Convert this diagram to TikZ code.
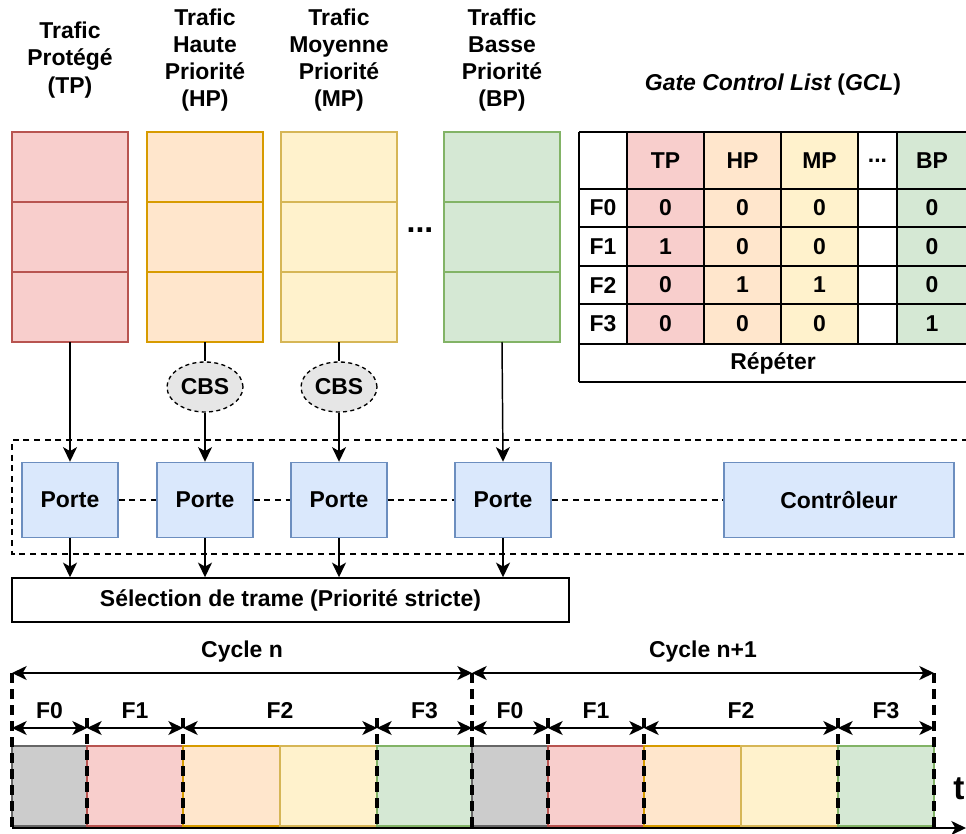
\documentclass[tikz,border=0pt]{standalone}
\usepackage{fontspec}
\setmainfont{Liberation Sans}
\usetikzlibrary{arrows.meta,shapes.geometric}
\definecolor{redF}{HTML}{F8CECC}\definecolor{redD}{HTML}{B85450}
\definecolor{orF}{HTML}{FFE6CC}\definecolor{orD}{HTML}{D79B00}
\definecolor{yeF}{HTML}{FFF2CC}\definecolor{yeD}{HTML}{D6B656}
\definecolor{grF}{HTML}{D5E8D4}\definecolor{grD}{HTML}{82B366}
\definecolor{blF}{HTML}{DAE8FC}\definecolor{blD}{HTML}{6C8EBF}
\definecolor{gyF}{HTML}{CCCCCC}\definecolor{gyD}{HTML}{666666}
\definecolor{cbsF}{HTML}{E6E6E6}
\begin{document}
\begin{tikzpicture}[x=0.75pt,y=-0.75pt,
  font=\fontsize{17.2}{20.4}\selectfont\bfseries,
  sz/.style 2 args={minimum width={#1*0.75pt},minimum height={#2*0.75pt}},
  qbox/.style={draw, line width=1pt, inner sep=0pt, outer sep=0pt, sz={116}{70}},
  porte/.style={draw=blD, fill=blF, line width=1.1pt, inner sep=0pt, sz={96}{75}},
  cbs/.style={ellipse, draw, dash pattern=on 3pt off 2.5pt, fill=cbsF, line width=1pt, inner sep=0pt, sz={76}{50}},
  arr/.style={-{Stealth[length=11pt,width=10.5pt,inset=3pt]}, line width=1.1pt},
  dimarr/.style={{Stealth[length=11pt,width=10.5pt,inset=3pt]}-{Stealth[length=11pt,width=10.5pt,inset=3pt]}, line width=1.1pt},
  vdash/.style={line width=2.9pt, dash pattern=on 7.5pt off 4.5pt},
  link/.style={line width=1pt, dash pattern=on 4.5pt off 3.5pt},
  slot/.style={draw, line width=1.1pt, inner sep=0pt, minimum width={#1*0.75pt}, minimum height=60pt},
  tline/.style={line width=1.2pt}
]
\useasboundingbox (0,0) rectangle (966,834);
\clip (0,0) rectangle (966,834);

% titles
\node[align=center] (t1) at (70,60) {Trafic\\Protégé\\(TP)};
\node[align=center] (t2) at (205,60) {Trafic\\Haute\\Priorité\\(HP)};
\node[align=center] (t3) at (339,60) {Trafic\\Moyenne\\Priorité\\(MP)};
\node[align=center] (t4) at (502,60) {Traffic\\Basse\\Priorité\\(BP)};

% queues
\foreach \n/\x/\f/\d in {tp/70/redF/redD, hp/205/orF/orD, mp/339/yeF/yeD, bp/502/grF/grD}{
  \node[qbox, fill=\f, draw=\d] (\n1) at (\x,167) {};
  \node[qbox, fill=\f, draw=\d] (\n2) at (\x,237) {};
  \node[qbox, fill=\f, draw=\d] (\n3) at (\x,307) {};
}
\node (qdots) at (420,230) {\fontsize{24}{24}\selectfont ...};

% CBS
\node[cbs] (cbs1) at (205,387) {CBS};
\node[cbs] (cbs2) at (339,387) {CBS};

% dashed enclosure
\draw[link] (1000,440) -- (12,440) -- (12,554) -- (1000,554);

% gates
\node[porte] (p1) at (70,500) {Porte};
\node[porte] (p2) at (205,500) {Porte};
\node[porte] (p3) at (339,500) {Porte};
\node[porte] (p4) at (503,500) {Porte};
\node[porte, sz={230}{75}] (ctrl) at (839,500) {Contrôleur};
\draw[link] (p1.east) -- (p2.west);
\draw[link] (p2.east) -- (p3.west);
\draw[link] (p3.east) -- (p4.west);
\draw[link] (p4.east) -- (ctrl.west);

% selection
\node[draw, line width=1.1pt, sz={557}{44}, inner sep=0pt] (sel) at (290.5,600) {Sélection de trame (Priorité stricte)};

% arrows
\draw[arr] (tp3.south) -- (p1.north);
\draw[line width=1.1pt] (hp3.south) -- (cbs1.north);
\draw[arr] (cbs1.south) -- (p2.north);
\draw[line width=1.1pt] (mp3.south) -- (cbs2.north);
\draw[arr] (cbs2.south) -- (p3.north);
\draw[arr] (bp3.south) -- (p4.north);
\foreach \p in {p1,p2,p3,p4}{
  \draw[arr] (\p.south) -- (\p.south |- sel.north);
}

% GCL table
\node (gcl) at (773,85) {\itshape Gate Control List \upshape(\itshape GCL\upshape)};
\fill[redF] (627,132) rectangle (704,344);
\fill[orF] (704,132) rectangle (781,344);
\fill[yeF] (781,132) rectangle (858,344);
\fill[grF] (897,132) rectangle (970,344);
\foreach \y in {132,189,227,266,304,344,382}{
  \draw[tline] (579,\y) -- (970,\y);
}
\draw[tline] (579,132) -- (579,382);
\foreach \x in {627,704,781,858,897}{
  \draw[tline] (\x,132) -- (\x,344);
}
\draw[tline] (968,132) -- (968,382);
\node (hTP) at (665.5,161) {TP};
\node (hHP) at (742.5,161) {HP};
\node (hMP) at (819.5,161) {MP};
\node (hDots) at (877.5,161) {...};
\node (hBP) at (932,161) {BP};
\foreach \r/\y/\a/\b/\c/\d in {0/208/0/0/0/0, 1/246.5/1/0/0/0, 2/285/0/1/1/0, 3/324/0/0/0/1}{
  \node (rl\r) at (603,\y) {F\r};
  \node (ra\r) at (665.5,\y) {\a};
  \node (rb\r) at (742.5,\y) {\b};
  \node (rc\r) at (819.5,\y) {\c};
  \node (rd\r) at (932,\y) {\d};
}
\node (rep) at (773,363) {Répéter};

% timeline slots
\node[slot=75, fill=gyF, draw=gyD] (s0) at (49.5,786) {};
\node[slot=96, fill=redF, draw=redD] (s1) at (135,786) {};
\node[slot=97, fill=orF, draw=orD] (s2) at (231.5,786) {};
\node[slot=97, fill=yeF, draw=yeD] (s3) at (328.5,786) {};
\node[slot=95, fill=grF, draw=grD] (s4) at (424.5,786) {};
\node[slot=76, fill=gyF, draw=gyD] (s5) at (510,786) {};
\node[slot=96, fill=redF, draw=redD] (s6) at (596,786) {};
\node[slot=97, fill=orF, draw=orD] (s7) at (692.5,786) {};
\node[slot=97, fill=yeF, draw=yeD] (s8) at (789.5,786) {};
\node[slot=96, fill=grF, draw=grD] (s9) at (886,786) {};

% boundaries
\foreach \i/\x in {0/12,1/87,2/183,3/377,4/472,5/548,6/644,7/838,8/934}{
  \coordinate (f\i) at (\x,728);
  \coordinate (e\i) at (\x,828);
}
\coordinate (c0) at (12,673);
\coordinate (c1) at (472,673);
\coordinate (c2) at (934,673);
\draw[vdash] (c0) -- (e0);
\draw[vdash] (c1) -- (e4);
\draw[vdash] (c2) -- (e8);
\foreach \i in {1,2,3,5,6,7}{
  \draw[vdash] ([yshift=7.5pt]f\i) -- (e\i);
}

% dimension arrows
\draw[dimarr] (c0) -- node[above=4pt] (cn) {Cycle n} (c1);
\draw[dimarr] (c1) -- node[above=4pt] (cn1) {Cycle n+1} (c2);
\foreach \a/\b/\l in {0/1/F0,1/2/F1,2/3/F2,3/4/F3,4/5/F0,5/6/F1,6/7/F2,7/8/F3}{
  \draw[dimarr] (f\a) -- node[above=3pt] (lab\a) {\l} (f\b);
}

% time axis
\coordinate (tend) at (966,828);
\draw[arr] (e0) -- (tend);
\node (tlab) at (959,789) {\fontsize{25}{25}\selectfont t};
\end{tikzpicture}
\end{document}
